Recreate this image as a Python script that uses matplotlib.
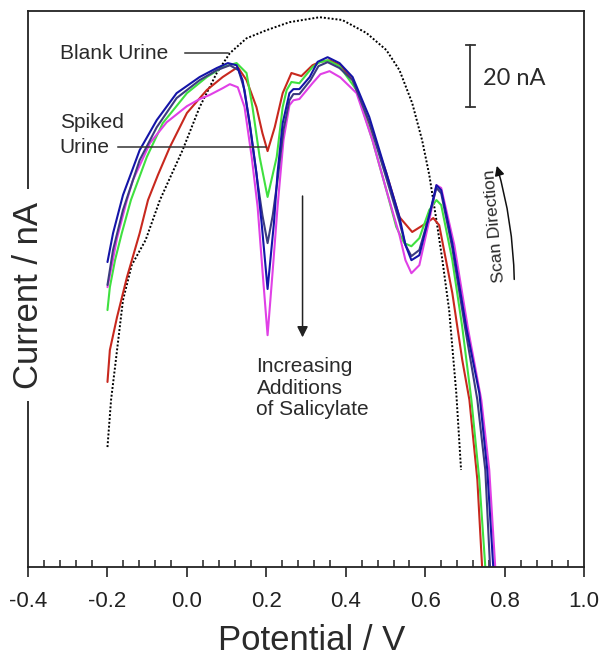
import matplotlib
matplotlib.use("Agg")
import matplotlib.pyplot as plt
from matplotlib.ticker import MultipleLocator

plt.rcParams["font.family"] = ["Liberation Sans", "DejaVu Sans"]

# --- data: potential (V) / current (nA) ---
x_ticks = [-0.4, -0.2, 0.0, 0.2, 0.4, 0.6, 0.8, 1.0]
x_labels = ["-0.4", "-0.2", "0.0", "0.2", "0.4", "0.6", "0.8", "1.0"]

blank_v = [-0.200, -0.191, -0.181, -0.161, -0.139, -0.104, -0.068, -0.011, 0.032, 0.075,
           0.108, 0.150, 0.200, 0.258, 0.334, 0.391, 0.452, 0.502, 0.535, 0.567,
           0.592, 0.610, 0.628, 0.643, 0.660, 0.678, 0.690]
blank_i = [38.7, 53.9, 64.5, 86.1, 97.4, 105.5, 118.4, 134.5, 148.4, 159.4,
           165.8, 170.6, 173.2, 175.8, 177.4, 176.5, 172.3, 166.8, 160.3, 149.7,
           137.7, 126.5, 111.9, 99.0, 82.9, 56.1, 31.3]

red_v = [-0.200, -0.194, -0.176, -0.151, -0.119, -0.098, -0.073, -0.043, 0.000, 0.050,
         0.090, 0.128, 0.150, 0.175, 0.190, 0.203, 0.221, 0.241, 0.263, 0.288,
         0.316, 0.335, 0.359, 0.385, 0.417, 0.459, 0.502, 0.535, 0.567, 0.603, 0.620, 0.635,
         0.668, 0.693, 0.711, 0.731, 0.743, 0.745]
red_i = [59.7, 70.0, 80.6, 93.5, 107.7, 118.4, 126.5, 135.5, 146.5, 153.9,
         158.1, 161.3, 157.1, 148.4, 140.0, 134.2, 141.9, 152.9, 159.4, 158.4,
         161.9, 163.0, 163.5, 162.0, 157.1, 143.2, 127.1, 112.9, 108.1, 111.0, 112.6, 110.3,
         88.4, 66.8, 53.9, 28.1, 0.0, -5.0]

green_v = [-0.200, -0.194, -0.181, -0.164, -0.141, -0.101, -0.061, 0.000, 0.050, 0.090,
           0.125, 0.150, 0.165, 0.183, 0.203, 0.226, 0.241, 0.251, 0.263, 0.283,
           0.316, 0.333, 0.354, 0.384, 0.427, 0.467, 0.502, 0.527, 0.547, 0.565, 0.585, 0.610,
           0.628, 0.640, 0.668, 0.693, 0.716, 0.736, 0.751, 0.753]
green_i = [82.9, 90.3, 99.0, 107.7, 118.4, 132.3, 143.2, 152.9, 158.1, 161.3,
           162.6, 159.4, 148.4, 132.3, 119.4, 132.3, 148.4, 153.9, 156.5, 156.1,
           161.3, 162.8, 163.5, 161.6, 153.9, 137.7, 121.6, 109.7, 104.5, 103.5, 106.1, 115.2,
           118.4, 116.8, 99.0, 77.4, 53.9, 28.1, 0.0, -5.0]

slate_v = [-0.200, -0.186, -0.161, -0.119, -0.076, -0.026, 0.032, 0.075, 0.108, 0.130,
           0.145, 0.160, 0.178, 0.190, 0.203, 0.216, 0.228, 0.243, 0.258, 0.268,
           0.283, 0.311, 0.331, 0.354, 0.384, 0.417, 0.459, 0.502, 0.535, 0.550, 0.565, 0.585,
           0.610, 0.628, 0.640, 0.668, 0.701, 0.731, 0.751, 0.763, 0.765]
slate_i = [91.0, 102.3, 115.2, 131.3, 141.9, 151.3, 157.1, 160.3, 161.9, 160.3,
           153.9, 141.0, 123.9, 113.5, 104.5, 113.5, 124.8, 141.0, 150.6, 152.6,
           152.6, 157.1, 161.6, 162.9, 161.0, 157.1, 143.5, 125.5, 111.3, 103.9, 100.3, 102.3,
           113.5, 122.3, 120.6, 102.9, 76.5, 53.9, 31.3, 0.0, -5.0]

blue_v = [-0.200, -0.186, -0.161, -0.119, -0.076, -0.026, 0.032, 0.075, 0.103, 0.125,
          0.140, 0.158, 0.175, 0.188, 0.203, 0.219, 0.228, 0.241, 0.258, 0.268,
          0.283, 0.309, 0.329, 0.354, 0.384, 0.417, 0.459, 0.502, 0.535, 0.550, 0.565, 0.585,
          0.610, 0.628, 0.640, 0.668, 0.703, 0.736, 0.756, 0.771, 0.773]
blue_i = [98.4, 107.7, 120.0, 134.5, 144.2, 152.9, 158.1, 161.0, 162.6, 161.9,
          157.1, 143.2, 127.1, 111.0, 89.7, 111.0, 127.1, 143.2, 152.9, 154.2,
          154.2, 158.1, 163.0, 164.5, 162.6, 158.1, 145.2, 127.1, 112.9, 103.9, 99.0, 100.6,
          113.5, 123.2, 121.6, 104.5, 77.4, 56.1, 31.3, 0.0, -5.0]

magenta_v = [-0.200, -0.189, -0.176, -0.151, -0.136, -0.093, -0.051, 0.000, 0.032, 0.057,
             0.090, 0.108, 0.128, 0.145, 0.163, 0.178, 0.190, 0.203, 0.216, 0.228,
             0.243, 0.258, 0.268, 0.283, 0.316, 0.336, 0.359, 0.386, 0.427, 0.467, 0.502, 0.535,
             0.550, 0.565, 0.585, 0.610, 0.628, 0.640, 0.673, 0.708, 0.741, 0.761,
             0.776, 0.778]
magenta_i = [90.3, 97.4, 106.1, 118.4, 124.8, 136.8, 143.5, 148.7, 151.0, 152.3,
             154.5, 155.8, 154.8, 148.4, 132.3, 116.1, 95.8, 74.8, 95.8, 116.1,
             137.7, 149.0, 150.6, 151.0, 156.1, 159.0, 160.0, 158.0, 152.9, 137.7, 121.6, 107.1,
             99.0, 94.8, 97.4, 111.9, 123.2, 122.3, 103.9, 76.5, 53.9, 31.3,
             0.0, -5.0]

curves = [
    (red_v, red_i, "#c8281e"),
    (green_v, green_i, "#3fe03f"),
    (magenta_v, magenta_i, "#e040e6"),
    (slate_v, slate_i, "#3c3c80"),
    (blue_v, blue_i, "#1414a8"),
]

# --- figure ---
fig = plt.figure(figsize=(6, 6.64), dpi=100)
ax = fig.add_axes([0.0467, 0.1461, 0.927, 0.8373])

ax.plot(blank_v, blank_i, color="black", linestyle=(0, (1, 1)), linewidth=1.4)
for v, i, c in curves:
    ax.plot(v, i, color=c, linewidth=1.5, solid_joinstyle="round",
            solid_capstyle="round")

ax.set_xlim(-0.4, 1.0)
ax.set_ylim(0, 179.4)

for s in ax.spines.values():
    s.set_linewidth(1.3)
    s.set_color("#222222")

ax.set_xticks(x_ticks)
ax.set_xticklabels(x_labels)
ax.xaxis.set_minor_locator(MultipleLocator(0.04))
ax.tick_params(axis="x", which="major", direction="out", length=7, width=1.2,
               labelsize=16, pad=10, colors="#222222")
ax.tick_params(axis="x", which="minor", direction="in", length=5, width=1.1,
               colors="#222222")
ax.set_yticks([])

# labels
fig.text(0.52, 1 - 640 / 664, "Potential / V", ha="center", va="center",
         fontsize=25, color="#2a2a2a")
ax.text(0.0, 0.489, "Current / nA", transform=ax.transAxes, rotation=90,
        ha="center", va="center", fontsize=25, color="#2a2a2a",
        bbox=dict(facecolor="white", edgecolor="none", pad=9))

# annotations
txt = dict(fontsize=15, color="#2a2a2a", va="center", ha="left")
ax.text(-0.320, 165.8, "Blank Urine", **txt)
ax.plot([-0.006, 0.103], [165.8, 165.8], color="#333333", linewidth=1.1)
ax.text(-0.320, 143.5, "Spiked", **txt)
ax.text(-0.320, 135.5, "Urine", **txt)
ax.plot([-0.174, 0.200], [135.5, 135.5], color="#333333", linewidth=1.1)

# scale bar
ax.plot([0.713, 0.713], [148.4, 168.4], color="#333333", linewidth=1.3)
ax.plot([0.702, 0.724], [148.4, 148.4], color="#333333", linewidth=1.3)
ax.plot([0.702, 0.724], [168.4, 168.4], color="#333333", linewidth=1.3)
ax.text(0.746, 157.7, "20 nA", fontsize=17, color="#2a2a2a", va="center",
        ha="left", family=["Lato", "DejaVu Sans"])

# scan direction
ax.text(0.774, 110.0, "Scan Direction", rotation=95, fontsize=12.5,
        color="#2a2a2a", ha="center", va="center")
ax.annotate("", xy=(0.778, 130.3), xytext=(0.824, 91.9),
            arrowprops=dict(arrowstyle="-|>", color="#111111", lw=1.1,
                            mutation_scale=14, connectionstyle="arc3,rad=0.07"))

# increasing additions arrow
ax.annotate("", xy=(0.291, 73.2), xytext=(0.291, 120.6),
            arrowprops=dict(arrowstyle="-|>", color="#222222", lw=1.1,
                            mutation_scale=16))
ax.text(0.175, 57.7, "Increasing\nAdditions\nof Salicylate", fontsize=15,
        color="#2a2a2a", ha="left", va="center", linespacing=1.15)

fig.savefig("out.png", dpi=100)
